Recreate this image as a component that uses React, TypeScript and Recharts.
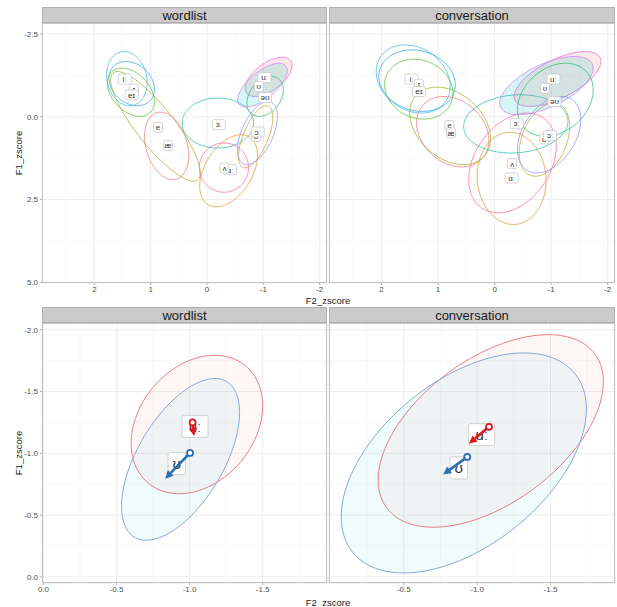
import React from "react";
import { ScatterChart, Scatter, XAxis, YAxis, CartesianGrid, ReferenceLine } from "recharts";

// vowel categories and colours (ggplot hue palette)
const vowels = ["iː", "ɪ", "eɪ", "e", "æ", "ɜː", "ɑː", "ʌ", "ɒ", "ɔː", "uː", "ʊ", "əʊ"];
const vowelColors = [
  "#3fb8e6", "#2fa6f0", "#5cbf3a", "#95b52a", "#f07a78", "#2cc2ab",
  "#e69a2a", "#ff6aa8", "#c9a52a", "#8b93ff", "#ef66dc", "#c984f5", "#2bbf6e",
];
const vowelFill: Record<string, string> = { "uː": "#F8766D", "ʊ": "#00BFC4" };

// vowel means (F2_zscore, F1_zscore)
const wordlistF2 = [1.46, 1.3, 1.34, 0.87, 0.69, -0.21, -0.41, -0.31, -0.87, -0.9, -1.02, -0.92, -1.03];
const wordlistF1 = [-1.14, -0.83, -0.66, 0.32, 0.87, 0.24, 1.6, 1.55, 0.59, 0.46, -1.18, -0.91, -0.58];
const conversationF2 = [1.47, 1.34, 1.34, 0.8, 0.77, -0.39, -0.3, -0.31, -0.88, -0.98, -1.04, -0.89, -1.06];
const conversationF1 = [-1.14, -0.98, -0.76, 0.27, 0.49, 0.21, 1.85, 1.42, 0.67, 0.57, -1.14, -0.86, -0.46];

// ellipses: centre F2, centre F1, half range F2, half range F1, F1 offset ratio at max F2
const wordlistEllipses = [
  [1.422, -1.15, 0.36, 0.818, -0.14],
  [1.337, -0.999, 0.404, 0.668, -0.25],
  [1.352, -0.738, 0.419, 0.728, -0.38],
  [0.915, 0.291, 0.796, 1.657, -0.85],
  [0.717, 0.879, 0.392, 1.019, -0.28],
  [-0.191, 0.191, 0.634, 0.753, 0],
  [-0.383, 1.632, 0.513, 1.089, 0.43],
  [-0.3, 1.536, 0.437, 0.743, 0],
  [-0.864, 0.607, 0.304, 0.939, 0.63],
  [-0.896, 0.492, 0.354, 0.954, 0.53],
  [-1.094, -1.205, 0.416, 0.592, 0.58],
  [-0.985, -0.954, 0.442, 0.663, 0.67],
  [-1.032, -0.612, 0.324, 0.602, 0.33],
];
const conversationEllipses = [
  [1.44, -1.14, 0.655, 1.029, -0.22],
  [1.372, -1.089, 0.676, 0.929, -0.14],
  [1.342, -0.833, 0.604, 0.904, -0.14],
  [0.786, 0.276, 0.714, 1.17, -0.33],
  [0.741, 0.452, 0.64, 1.064, -0.25],
  [-0.375, 0.216, 0.923, 0.879, 0.09],
  [-0.301, 1.862, 0.61, 1.391, -0.05],
  [-0.316, 1.396, 0.774, 1.506, 0.33],
  [-0.881, 0.693, 0.446, 1.104, 0.36],
  [-0.964, 0.542, 0.56, 1.155, 0.39],
  [-1.113, -1.14, 0.768, 0.828, 0.64],
  [-0.917, -0.939, 0.827, 0.879, 0.6],
  [-1.074, -0.512, 0.67, 1.104, 0.27],
];

// bottom row: uː and ʊ only
const focusVowels = ["uː", "ʊ"];
const focusStroke = ["#ee7f86", "#86aad6"];
const focusFill = ["#F8766D", "#00BFC4"];
const arrowColors = ["#e0161e", "#2a6db5"];
const focusWordlistF2 = [-1.037, -0.912];
const focusWordlistF1 = [-1.218, -0.917];
const focusConversationF2 = [-1.031, -0.875];
const focusConversationF1 = [-1.151, -0.882];
const focusWordlistEllipses = [
  [-1.05, -1.233, 0.45, 0.56, 0.27],
  [-0.938, -0.951, 0.404, 0.654, 0.58],
];
const focusConversationEllipses = [
  [-1.093, -1.181, 0.768, 0.779, 0.51],
  [-0.909, -0.922, 0.836, 0.89, 0.49],
];
// trajectory arrows: [startF2, startF1, endF2, endF1]
const wordlistArrows = [
  [-1.02, -1.25, -1.03, -1.14],
  [-1.003, -1.003, -0.833, -0.795],
];
const conversationArrows = [
  [-1.081, -1.214, -0.944, -1.078],
  [-0.933, -0.971, -0.768, -0.828],
];

const topXTicks = [2, 1, 0, -1, -2];
const topXMinor = [2.5, 1.5, 0.5, -0.5, -1.5];
const topYTicks = [-2.5, 0, 2.5, 5];
const topYMinor = [-1.25, 1.25, 3.75];
const botXTicks = [0, -0.5, -1, -1.5];
const botXMinor = [-0.25, -0.75, -1.25, -1.75];
const botYTicks = [-2, -1.5, -1, -0.5, 0];
const botYMinor = [-1.75, -1.25, -0.75, -0.25];

const FONT = "'Liberation Sans', Arial, 'DejaVu Sans', sans-serif";

const ellipsePoints = ([cx, cy, rx, ry, k]: number[]) => {
  const phi = Math.acos(k);
  const pts = [];
  for (let i = 0; i <= 90; i++) {
    const t = (i / 90) * Math.PI * 2;
    pts.push({ x: cx + rx * Math.cos(t), y: cy + ry * Math.cos(t - phi) });
  }
  return pts;
};

const noPoint = () => <g />;

const ellipseLine = (stroke: string, fill: string, fillOpacity: number, strokeOpacity: number) => (props: any) => {
  const pts = props.points || [];
  const d = pts.map((p: any, i: number) => `${i ? "L" : "M"}${p.x},${p.y}`).join(" ") + " Z";
  return <path d={d} stroke={stroke} strokeOpacity={strokeOpacity} strokeWidth={1} fill={fill} fillOpacity={fillOpacity} />;
};

const arrowLine = (color: string) => (props: any) => {
  const pts = props.points || [];
  if (pts.length < 2) return <g />;
  const [a, b] = pts;
  const ang = Math.atan2(b.y - a.y, b.x - a.x);
  const len = 8;
  const w = 4;
  const bx = b.x - Math.cos(ang) * len;
  const by = b.y - Math.sin(ang) * len;
  const tri = [
    [b.x, b.y],
    [bx + Math.sin(ang) * w, by - Math.cos(ang) * w],
    [bx - Math.sin(ang) * w, by + Math.cos(ang) * w],
  ];
  return (
    <g>
      <line x1={a.x} y1={a.y} x2={bx} y2={by} stroke={color} strokeWidth={2.6} />
      <polygon points={tri.map((p) => p.join(",")).join(" ")} fill={color} />
      <circle cx={a.x} cy={a.y} r={3} fill="#ffffff" stroke={color} strokeWidth={1.8} />
    </g>
  );
};

const labelShape = (fontSize: number, boxH: number, perChar: number, pad: number) => (props: any) => {
  const { cx, cy, payload } = props;
  const w = pad + perChar * payload.label.length;
  return (
    <g>
      <rect x={cx - w / 2} y={cy - boxH / 2} width={w} height={boxH} rx={2} fill="#ffffff" stroke="#c8c8c8" strokeWidth={0.8} />
      <text x={cx} y={cy} dy="0.35em" textAnchor="middle" fontSize={fontSize} fontFamily={FONT} fill="#333333">
        {payload.label}
      </text>
    </g>
  );
};

type PanelProps = {
  left: number;
  top: number;
  width: number;
  showY: boolean;
  row: "top" | "bottom";
  names: string[];
  f2: number[];
  f1: number[];
  ellipses: number[][];
  strokes: string[];
  fills: (string | null)[];
  fillOpacity: number;
  strokeOpacity: number;
  arrows?: number[][];
};

const Panel = (p: PanelProps) => {
  const isTop = p.row === "top";
  const xDomain = isTop ? [-2.13, 2.93] : [-1.94, 0.01];
  const yDomain = isTop ? [-2.83, 5.02] : [-2.054, 0.049];
  const xTicks = isTop ? topXTicks : botXTicks;
  const yTicks = isTop ? topYTicks : botYTicks;
  const xMinor = isTop ? topXMinor : botXMinor;
  const yMinor = isTop ? topYMinor : botYMinor;
  const xFmt = (v: number) => (isTop ? String(v) : v.toFixed(1));
  const labels = p.names.map((n, i) => ({ x: p.f2[i], y: p.f1[i], label: n }));
  const tick = { fontSize: 8, fill: "#4d4d4d", fontFamily: FONT };
  return (
    <div style={{ position: "absolute", left: p.left, top: p.top }}>
      <ScatterChart
        width={p.width}
        height={300}
        margin={{ top: 23, right: 2, bottom: 0, left: p.showY ? 8 : 2 }}
      >
        <CartesianGrid stroke="#ebebeb" strokeWidth={0.9} />
        {xMinor.map((v) => (
          <ReferenceLine key={"mx" + v} x={v} stroke="#f5f5f5" strokeWidth={0.6} />
        ))}
        {yMinor.map((v) => (
          <ReferenceLine key={"my" + v} y={v} stroke="#f5f5f5" strokeWidth={0.6} />
        ))}
        <XAxis
          type="number"
          dataKey="x"
          domain={xDomain}
          reversed
          allowDataOverflow
          ticks={xTicks}
          tickFormatter={xFmt}
          height={17}
          tickSize={2}
          tickMargin={1}
          axisLine={false}
          tickLine={{ stroke: "#b3b3b3" }}
          tick={tick}
        />
        <YAxis
          type="number"
          dataKey="y"
          domain={yDomain}
          reversed
          allowDataOverflow
          ticks={yTicks}
          tickFormatter={(v: number) => v.toFixed(1)}
          width={34}
          hide={!p.showY}
          tickSize={2}
          tickMargin={2}
          axisLine={false}
          tickLine={{ stroke: "#b3b3b3" }}
          tick={tick}
        />
        {p.ellipses.map((e, i) => (
          <Scatter
            key={"el" + i}
            data={ellipsePoints(e)}
            shape={noPoint}
            line={ellipseLine(p.strokes[i], p.fills[i] || "none", p.fills[i] ? p.fillOpacity : 0, p.strokeOpacity)}
            isAnimationActive={false}
          />
        ))}
        <Scatter
          data={labels}
          shape={isTop ? labelShape(8, 10, 4, 5) : labelShape(15, 22, 8.5, 9)}
          isAnimationActive={false}
        />
        {(p.arrows || []).map((a, i) => (
          <Scatter
            key={"ar" + i}
            data={[
              { x: a[0], y: a[1] },
              { x: a[2], y: a[3] },
            ]}
            shape={noPoint}
            line={arrowLine(arrowColors[i])}
            isAnimationActive={false}
          />
        ))}
      </ScatterChart>
    </div>
  );
};

const Strip = ({ left, top, width, text }: { left: number; top: number; width: number; text: string }) => (
  <div
    style={{
      position: "absolute",
      left,
      top,
      width,
      height: 16,
      boxSizing: "border-box",
      background: "#cbcbcb",
      border: "0.5px solid #b0b0b0",
      color: "#1a1a1a",
      fontFamily: FONT,
      fontSize: 13,
      lineHeight: "16px",
      textAlign: "center",
    }}
  >
    {text}
  </div>
);

const Frame = ({ left, top, width, height }: { left: number; top: number; width: number; height: number }) => (
  <div
    style={{
      position: "absolute",
      left,
      top,
      width,
      height,
      boxSizing: "border-box",
      border: "1px solid #c4c4c4",
      pointerEvents: "none",
    }}
  />
);

const axisTitle: React.CSSProperties = {
  position: "absolute",
  fontFamily: FONT,
  fontSize: 9.5,
  color: "#1a1a1a",
  whiteSpace: "nowrap",
};

export default function App() {
  const topStrokes = vowelColors;
  const topFills = vowels.map((v) => vowelFill[v] || null);
  return (
    <div style={{ position: "absolute", left: 0, top: 0, width: 617, height: 607, background: "#ffffff", overflow: "hidden" }}>
      <Panel left={0} top={0} width={329} showY row="top" names={vowels} f2={wordlistF2} f1={wordlistF1}
        ellipses={wordlistEllipses} strokes={topStrokes} fills={topFills} fillOpacity={0.16} strokeOpacity={0.75} />
      <Panel left={327} top={0} width={290} showY={false} row="top" names={vowels} f2={conversationF2} f1={conversationF1}
        ellipses={conversationEllipses} strokes={topStrokes} fills={topFills} fillOpacity={0.16} strokeOpacity={0.75} />
      <Panel left={0} top={300} width={329} showY row="bottom" names={focusVowels} f2={focusWordlistF2} f1={focusWordlistF1}
        ellipses={focusWordlistEllipses} strokes={focusStroke} fills={focusFill} fillOpacity={0.06} strokeOpacity={1}
        arrows={wordlistArrows} />
      <Panel left={327} top={300} width={290} showY={false} row="bottom" names={focusVowels} f2={focusConversationF2} f1={focusConversationF1}
        ellipses={focusConversationEllipses} strokes={focusStroke} fills={focusFill} fillOpacity={0.06} strokeOpacity={1}
        arrows={conversationArrows} />

      <Frame left={42} top={23} width={285} height={260} />
      <Frame left={329} top={23} width={286} height={260} />
      <Frame left={42} top={323} width={285} height={260} />
      <Frame left={329} top={323} width={286} height={260} />

      <Strip left={42} top={7} width={285} text="wordlist" />
      <Strip left={329} top={7} width={286} text="conversation" />
      <Strip left={42} top={307} width={285} text="wordlist" />
      <Strip left={329} top={307} width={286} text="conversation" />

      <div style={{ ...axisTitle, left: 18, top: 153, transform: "translate(-50%, -50%) rotate(-90deg)" }}>F1_zscore</div>
      <div style={{ ...axisTitle, left: 18, top: 453, transform: "translate(-50%, -50%) rotate(-90deg)" }}>F1_zscore</div>
      <div style={{ ...axisTitle, left: 328, top: 300, transform: "translate(-50%, -50%)" }}>F2_zscore</div>
      <div style={{ ...axisTitle, left: 328, top: 602, transform: "translate(-50%, -50%)" }}>F2_zscore</div>
    </div>
  );
}
